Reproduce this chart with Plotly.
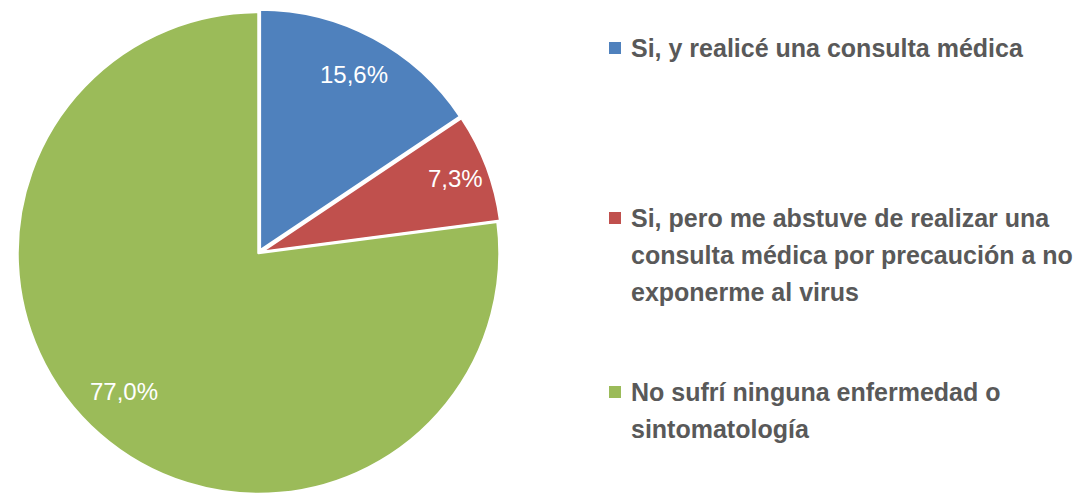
import math
import plotly.graph_objects as go

labels = [
    "Si, y realicé una consulta médica",
    "Si, pero me abstuve de realizar una consulta médica por precaución a no exponerme al virus",
    "No sufrí ninguna enfermedad o sintomatología",
]
legend_lines = [
    ["Si, y realicé una consulta médica"],
    ["Si, pero me abstuve de realizar una", "consulta médica por precaución a no", "exponerme al virus"],
    ["No sufrí ninguna enfermedad o", "sintomatología"],
]
values = [15.6, 7.3, 77.0]
colors = ["#4F81BD", "#C0504D", "#9BBB59"]
pulls = [0.012, 0.012, 0.0]

W, H = 1081, 497
font_family = "Liberation Sans Narrow, Liberation Sans, Arial, sans-serif"
text_color = "#595959"

# pie geometry (pixels)
cx, cy, R = 258.5, 253.0, 241.0
dom = 2 * R * (1 + max(pulls))
dom_x = [(cx - dom / 2) / W, (cx + dom / 2) / W]
dom_y = [(H - cy - dom / 2) / H, (H - cy + dom / 2) / H]
dom_y = [max(0.0, dom_y[0]), min(1.0, dom_y[1])]

fig = go.Figure()
fig.add_trace(go.Pie(
    labels=labels,
    values=values,
    sort=False,
    direction="clockwise",
    rotation=0,
    pull=pulls,
    marker=dict(colors=colors, line=dict(color="white", width=2.5)),
    textinfo="none",
    domain=dict(x=dom_x, y=dom_y),
    showlegend=False,
    hoverinfo="label+value",
))

annotations = []
shapes = []

# slice value labels, placed along each slice's bisector
label_radius = [0.83, 0.86, 0.80]
label_shift = [0.0, 0.0, 0.05]  # small angular offset (radians)
total = sum(values)
cum = 0.0
for i, v in enumerate(values):
    mid = (cum + v / 2) / total * 2 * math.pi + label_shift[i]
    cum += v
    d = R * (label_radius[i] + pulls[i])
    px = cx + d * math.sin(mid)
    py = cy - d * math.cos(mid)
    annotations.append(dict(
        text=f"{v:.1f}%".replace(".", ","), xref="paper", yref="paper",
        x=px / W, y=1 - py / H, xanchor="center", yanchor="middle",
        showarrow=False,
        font=dict(size=24, color="white", family=font_family),
    ))

# Legend drawn as markers + text
entry_tops = [48, 218, 392]
pitch = 37
for i, lines in enumerate(legend_lines):
    y0 = entry_tops[i]
    shapes.append(dict(
        type="rect", xref="paper", yref="paper",
        x0=609 / W, x1=621 / W,
        y0=1 - (y0 + 6) / H, y1=1 - (y0 - 6) / H,
        fillcolor=colors[i], line=dict(width=0),
    ))
    for j, ln in enumerate(lines):
        annotations.append(dict(
            text="<b>" + ln + "</b>", xref="paper", yref="paper",
            x=629 / W, y=1 - (y0 + j * pitch) / H,
            xanchor="left", yanchor="middle", showarrow=False,
            font=dict(size=25, color=text_color, family=font_family),
        ))

fig.update_layout(
    width=W, height=H,
    margin=dict(l=0, r=0, t=0, b=0),
    paper_bgcolor="white",
    plot_bgcolor="white",
    annotations=annotations,
    shapes=shapes,
    font=dict(family=font_family),
)
fig.write_html(
    "out.html",
    config={"displayModeBar": False},
    post_script="document.body.style.margin='0';document.body.style.padding='0';",
)
